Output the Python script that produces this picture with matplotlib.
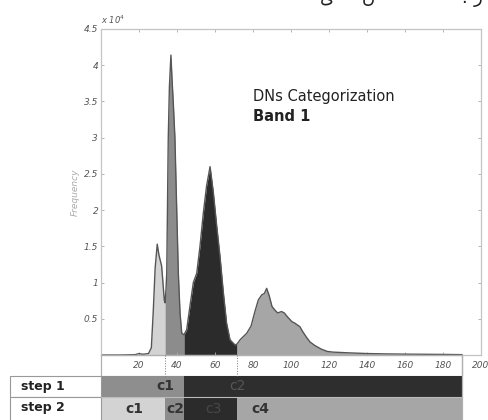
import numpy as np
import matplotlib
matplotlib.use("Agg")
from matplotlib import pyplot as plt
from matplotlib.patches import Rectangle

# histogram of band 1 (frequency in units of 10^4)
dn = [0, 10, 18, 20, 22, 25, 26.5, 27.5, 28.5, 29.6, 30.5, 31.9, 32.6, 33.3,
      33.7, 34.2, 34.6, 35.4, 36, 36.8, 37.4, 38.1, 38.9, 39.8, 40.7, 41.6,
      42.5, 43.7, 45.1, 46.8, 48.6, 50.4, 52.1, 53.9, 55.6, 57.4, 59.1,
      60.9, 62.6, 64.4, 66.1, 67.9, 70.5, 71.6, 73.2, 76.7, 79, 81, 82.8,
      84.6, 86, 87.2, 88.5, 90, 91.5, 93, 95, 96.5, 98, 100.5, 102, 104.7,
      106, 108, 110, 112.6, 116, 119, 122, 130, 140, 150, 160, 170, 180, 190]
freq = [0, 0, 0.005, 0.02, 0.01, 0.02, 0.1, 0.6, 1.2, 1.53, 1.38, 1.23, 1.0,
        0.76, 0.72, 0.9, 1.13, 3.0, 3.7, 4.14, 3.8, 3.45, 3.0, 2.06, 1.13,
        0.58, 0.3, 0.28, 0.35, 0.67, 1.0, 1.13, 1.5, 1.97, 2.34, 2.6, 2.25,
        1.78, 1.37, 0.86, 0.44, 0.21, 0.14, 0.15, 0.21, 0.3, 0.4, 0.6, 0.76,
        0.83, 0.85, 0.92, 0.82, 0.67, 0.62, 0.58, 0.6, 0.58, 0.53, 0.46, 0.44,
        0.39, 0.33, 0.25, 0.18, 0.13, 0.08, 0.05, 0.04, 0.03, 0.02, 0.015,
        0.012, 0.01, 0.008, 0.005]

# class limits
step1_edges = [0, 43.7, 190]
step1_names = ["c1", "c2"]
step2_edges = [0, 33.7, 43.7, 71.6, 190]
step2_names = ["c1", "c2", "c3", "c4"]
row_names = ["step 1", "step 2"]

xticks = [20, 40, 60, 80, 100, 120, 140, 160, 180, 200]
yticks = [0.5, 1, 1.5, 2, 2.5, 3, 3.5, 4, 4.5]

fill_cols = ["#d3d3d3", "#8c8c8c", "#2b2b2b", "#a6a6a6"]
s1_cols = ["#8e8e8e", "#2e2e2e"]
s1_txt = ["#333333", "#555555"]
s2_txt = ["#333333", "#333333", "#484848", "#333333"]

W, H = 489, 420


def px_axes(fig, l, t, r, b):
    return fig.add_axes([l / W, 1 - b / H, (r - l) / W, (b - t) / H])


fig = plt.figure(figsize=(W / 100, H / 100), dpi=100)

# top text fragments (cut off page text)
for ch, xp in [("\u06cc", 327), ("\u06ba", 368), ("\u0632", 478), (".", 464)]:
    fig.text(xp / W, 1 - 7 / H, ch, fontsize=13, ha="center", va="bottom",
             color="#222222", family="DejaVu Sans")

# main histogram
ax = px_axes(fig, 101, 29, 481, 355)
x = np.array(dn)
y = np.array(freq)
for i in range(4):
    lo, hi = step2_edges[i], step2_edges[i + 1]
    m = (x >= lo) & (x <= hi)
    ax.fill_between(x[m], 0, y[m], color=fill_cols[i], lw=0)
ax.plot(x, y, color="#555555", lw=1.0)
ax.set_xlim(0, 200)
ax.set_ylim(0, 4.5)
ax.set_xticks(xticks)
ax.set_yticks(yticks)
ax.set_yticklabels([("%g" % v) for v in yticks], fontstyle="italic",
                   fontsize=6.5, color="#555555")
ax.set_xticklabels([str(v) for v in xticks], fontstyle="italic",
                   fontsize=6.5, color="#555555")
ax.tick_params(direction="in", length=2, width=0.6, color="#aaaaaa",
               top=True, right=True, pad=4)
ax.tick_params(axis="y", pad=2)
for s in ax.spines.values():
    s.set_color("#c4c4c4")
    s.set_linewidth(0.9)
ax.set_ylabel("Frequency", fontstyle="italic", fontsize=6.5, color="#aaaaaa",
              labelpad=3)
ax.text(0, 1.01, "x 10$^4$", transform=ax.transAxes, fontsize=6,
        fontstyle="italic", color="#555555", va="bottom")
ax.text(0.4, 0.78, "DNs Categorization", transform=ax.transAxes,
        fontsize=10.5, color="#222222")
ax.text(0.4, 0.718, "Band 1", transform=ax.transAxes, fontsize=10.5,
        fontweight="bold", color="#222222")

# table of classes below
tb = px_axes(fig, 101, 355, 481, 420)
tb.set_xlim(0, 200)
tb.set_ylim(65, 0)
tb.axis("off")
tb.add_patch(Rectangle((0, 0), 190, 20.5, fc="none", ec="#b0b0b0", lw=0.9,
                       clip_on=False))
for xv in [step2_edges[1], step2_edges[3]]:
    tb.plot([xv, xv], [0, 20.5], ls=":", color="#777777", lw=0.7,
            clip_on=False)
for i, name in enumerate(step1_names):
    lo, hi = step1_edges[i], step1_edges[i + 1]
    tb.add_patch(Rectangle((lo, 20.5), hi - lo, 21.5, fc=s1_cols[i],
                           ec="none", clip_on=False))
for i, name in enumerate(step2_names):
    lo, hi = step2_edges[i], step2_edges[i + 1]
    tb.add_patch(Rectangle((lo, 42), hi - lo, 25, fc=fill_cols[i],
                           ec="none", clip_on=False))
tb.text(34, 31.5, "c1", fontsize=10, fontweight="bold", color=s1_txt[0],
        ha="center", va="center")
tb.text(72, 31.5, "c2", fontsize=10, color=s1_txt[1], ha="center",
        va="center")
s2_pos = [17.4, 39, 59, 84]
for i, name in enumerate(step2_names):
    tb.text(s2_pos[i], 54, name, fontsize=10,
            fontweight="normal" if i == 2 else "bold",
            color=s2_txt[i], ha="center", va="center")
tb.plot([0, 190], [42, 42], color="#bbbbbb", lw=0.8, clip_on=False)
tb.plot([190, 190], [0, 65], color="#b0b0b0", lw=0.9, clip_on=False)

# row label cells
x0 = -47.9
for k, name in enumerate(row_names):
    top = 20.5 if k == 0 else 42
    hgt = 21.5 if k == 0 else 25
    tb.add_patch(Rectangle((x0, top), -x0, hgt, fc="white", ec="#999999",
                           lw=0.8, clip_on=False))
    tb.text(x0 + 6, top + 11, name, fontsize=9, fontweight="bold",
            color="#222222", va="center")

fig.savefig("out.png", dpi=100)
